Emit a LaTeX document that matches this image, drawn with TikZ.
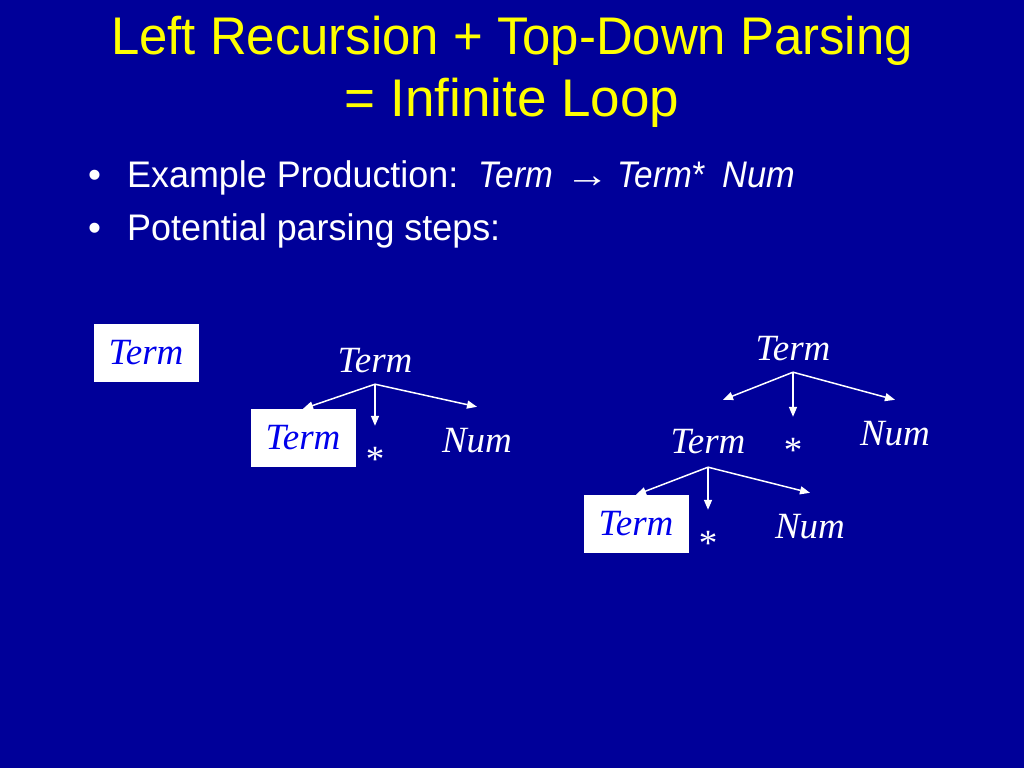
\documentclass[tikz,border=0pt]{standalone}
\usepackage{fontspec}
\setmainfont{Liberation Serif}
\setsansfont{Liberation Sans}
\usepackage{tikz}
\usetikzlibrary{arrows.meta}
\definecolor{slidebg}{RGB}{0,0,153}
\definecolor{titleyellow}{RGB}{255,255,0}
\definecolor{boxblue}{RGB}{0,0,235}
\tikzset{title node/.style={text=titleyellow,font=\sffamily\fontsize{53}{60}\selectfont,inner sep=0pt,anchor=base},
bullet node/.style={text=white,font=\sffamily\fontsize{37}{40}\selectfont,inner sep=0pt,anchor=base west},
sym node/.style={text=white,font=\fontsize{37}{40}\selectfont\itshape,inner sep=0pt,anchor=base},
root node/.style={sym node,text depth=12pt},
leaf node/.style={sym node,text height=45pt},
box node/.style={fill=white,text=boxblue,font=\fontsize{37}{40}\selectfont\itshape,minimum width=105pt,minimum height=58pt,inner sep=0pt},
arr/.style={every edge/.style={draw=white,fill=white,line width=1.5pt,-{Triangle[length=10pt,width=8pt]}}},
}

\begin{document}
\begin{tikzpicture}[x=1pt,y=-1pt]
			
			%% slide
			\fill[slidebg] (0,0) rectangle (1024,768);
			\node[title node] (title1) at (512,55) {\scalebox{0.96}[1]{Left Recursion + Top-Down Parsing}};
			\node[title node] (title2) at (512,116) {\scalebox{1.0}[1]{= Infinite Loop}};
			
			\node[bullet node] (dot1) at (88,187) {\textbullet};
			\node[bullet node] (item1) at (127,187) {\scalebox{0.97}[1]{Example Production:}};
			\node[bullet node] (lhs) at (478,187) {\scalebox{0.9}[1]{\itshape Term}};
			\node[bullet node] (to) at (565,187) {\scalebox{1.2}[1]{\rmfamily →}};
			\node[bullet node] (rhs1) at (617,187) {\scalebox{0.9}[1]{\itshape Term*}};
			\node[bullet node] (rhs2) at (722,187) {\scalebox{0.93}[1]{\itshape Num}};
			\node[bullet node] (dot2) at (88,240) {\textbullet};
			\node[bullet node] (item2) at (127,240) {\scalebox{0.97}[1]{Potential parsing steps:}};
			
			%% step 1
			\node[box node] (b1) at (146,353) {Term};
			
			%% step 2
			\node[root node] (r2) at (375,372) {Term};
			\node[box node] (b2) at (303,438) {Term};
			\node[leaf node] (s2) at (375,471) {\upshape *};
			\node[leaf node] (n2) at (477,452) {Num};
			
			\path[arr]
			(r2.south) edge (b2.north)
			           edge (s2.north)
			           edge (n2.north)
			;
			
			%% step 3
			\node[root node] (r3) at (793,360) {Term};
			\node[sym node,text height=53pt,text depth=14pt] (m3) at (708,453) {Term};
			\node[leaf node] (s3) at (793,462) {\upshape *};
			\node[leaf node] (n3) at (895,445) {Num};
			\node[box node] (b4) at (636,524) {Term};
			\node[leaf node] (s4) at (708,555) {\upshape *};
			\node[leaf node] (n4) at (810,538) {Num};
			
			\path[arr]
			(r3.south) edge ([xshift=15pt]m3.north)
			           edge (s3.north)
			           edge (n3.north)
			(m3.south) edge (b4.north)
			           edge (s4.north)
			           edge (n4.north)
			;
\end{tikzpicture}
\end{document}
